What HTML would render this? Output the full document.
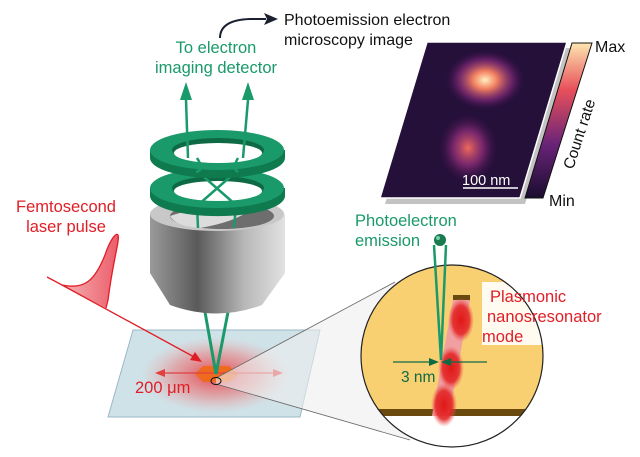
<!DOCTYPE html>
<html><head><meta charset="utf-8"><style>
html,body{margin:0;padding:0;background:#fff}
svg{display:block}
text{font-family:"Liberation Sans",sans-serif}
</style></head><body>
<svg width="640" height="457" viewBox="0 0 640 457" xmlns="http://www.w3.org/2000/svg">
<defs>
<radialGradient id="glow" cx="0.5" cy="0.5" r="0.5">
<stop offset="0" stop-color="#e8303a" stop-opacity="0.9"/>
<stop offset="0.6" stop-color="#ee6a6a" stop-opacity="0.45"/>
<stop offset="1" stop-color="#f4a0a0" stop-opacity="0"/>
</radialGradient>
<linearGradient id="obj" x1="0" x2="1">
<stop offset="0" stop-color="#9a9a9a"/><stop offset="0.35" stop-color="#5a5a5a"/><stop offset="0.7" stop-color="#b8b8b8"/><stop offset="1" stop-color="#e2e2e2"/>
</linearGradient>
<linearGradient id="cbar" x1="0" y1="1" x2="0" y2="0">
<stop offset="0" stop-color="#1a0c30"/><stop offset="0.35" stop-color="#6a2478"/><stop offset="0.7" stop-color="#e8505a"/><stop offset="1" stop-color="#fce6b0"/>
</linearGradient>
<radialGradient id="hot1" cx="0.5" cy="0.5" r="0.5">
<stop offset="0" stop-color="#fff0c0"/><stop offset="0.3" stop-color="#f28060"/><stop offset="0.7" stop-color="#8a2a80" stop-opacity="0.6"/><stop offset="1" stop-color="#3a1048" stop-opacity="0"/>
</radialGradient>
<radialGradient id="hot2" cx="0.5" cy="0.5" r="0.5">
<stop offset="0" stop-color="#ee6a5a"/><stop offset="0.5" stop-color="#9a3080" stop-opacity="0.7"/><stop offset="1" stop-color="#3a1048" stop-opacity="0"/>
</radialGradient>
<radialGradient id="blob" cx="0.5" cy="0.5" r="0.5">
<stop offset="0" stop-color="#e01818"/><stop offset="0.65" stop-color="#e42828" stop-opacity="0.9"/><stop offset="1" stop-color="#f06060" stop-opacity="0"/>
</radialGradient>
<linearGradient id="pulse" x1="0" x2="1"><stop offset="0" stop-color="#f8c0c0"/><stop offset="1" stop-color="#e84050"/></linearGradient>
<clipPath id="circ"><circle cx="452" cy="356" r="91"/></clipPath>
</defs>

<!-- substrate -->
<polygon points="133,330 320,330 300,417 108,417" fill="#cfe2e8" stroke="#9ab8c4"/>
<ellipse cx="216" cy="375" rx="75" ry="38" fill="url(#glow)"/>
<polygon points="203,366 229,366 238,374 229,382 203,382 195,374" fill="#f06a1e"/>
<line x1="160" y1="373" x2="280" y2="373" stroke="#e04040" stroke-width="1.2"/>
<polygon points="155,373 165,369 165,377" fill="#e04040"/>
<polygon points="283,373 273,369 273,377" fill="#e04040"/>
<text x="135" y="393" font-size="16.5" fill="#e01e26">200 μm</text>

<!-- magnifier cone -->
<polygon points="216,378 395,282 410,440 216,384" fill="#eeeeee" opacity="0.6"/>
<line x1="216" y1="378" x2="395" y2="282" stroke="#666" stroke-width="0.8"/>
<line x1="216" y1="384" x2="410" y2="440" stroke="#666" stroke-width="0.8"/>
<ellipse cx="216" cy="381" rx="5" ry="3.5" fill="none" stroke="#111" stroke-width="1"/>

<!-- laser pulse -->
<path d="M47,277 L62,285 C85,290 95,280 105,255 C110,240 116,232 118,235 C120,240 113,260 108,300 L106,308 Z" fill="url(#pulse)" opacity="0.85"/>
<path d="M47,277 L62,285 C85,290 95,280 105,255 C110,240 116,232 118,235 C120,240 113,260 108,300 L106,308" fill="none" stroke="#e01e26" stroke-width="1.3"/>
<line x1="62" y1="285" x2="196" y2="358" stroke="#e01e26" stroke-width="1.3"/>
<polygon points="202,362 190,360 195,352" fill="#e01e26"/>
<text x="66" y="212" font-size="16.5" fill="#e01e26" text-anchor="middle">Femtosecond</text>
<text x="66" y="232" font-size="16.5" fill="#e01e26" text-anchor="middle">laser pulse</text>

<!-- beams below objective -->
<path d="M205,312 L216,374 L228,312" fill="none" stroke="#1a9a6a" stroke-width="3"/>

<!-- objective -->
<path d="M150,214 L150,273 L170,305 Q217,322 262,305 L285,273 L285,214 Z" fill="url(#obj)"/>
<ellipse cx="217" cy="214" rx="67" ry="17" fill="#c8c8c8"/>
<ellipse cx="222" cy="216" rx="52" ry="13" fill="#6e6e6e"/>
<path d="M170,216 Q200,205 250,210 Q235,222 200,228 Q175,226 170,216Z" fill="#dcdcdc"/>
<line x1="197" y1="205" x2="198" y2="228" stroke="#1a9a6a" stroke-width="2.5"/>
<line x1="236" y1="205" x2="234" y2="228" stroke="#1a9a6a" stroke-width="2.5"/>

<!-- ring 2 -->
<path d="M150,188 L150,196 A67,20 0 0 0 285,196 L285,188" fill="#0f7a4e"/>
<ellipse cx="217" cy="188" rx="67" ry="20" fill="#1a9a6a"/>
<ellipse cx="218" cy="188" rx="46" ry="12" fill="#0e6a44"/>
<ellipse cx="218" cy="191" rx="44" ry="10" fill="#fff"/>
<path d="M196,170 L236,205 M238,170 L198,205" stroke="#1a9a6a" stroke-width="2.5"/>
<!-- ring 1 -->
<path d="M150,150 L150,158 A67,20 0 0 0 285,158 L285,150" fill="#0f7a4e"/>
<ellipse cx="217" cy="150" rx="67" ry="20" fill="#1a9a6a"/>
<ellipse cx="218" cy="150" rx="46" ry="12" fill="#0e6a44"/>
<ellipse cx="218" cy="153" rx="44" ry="10" fill="#fff"/>
<path d="M186,100 L188,158 M248,100 L243,158" stroke="#1a9a6a" stroke-width="2.5"/>
<polygon points="186,82 180,100 192,100" fill="#1a9a6a"/>
<polygon points="248,82 242,100 254,100" fill="#1a9a6a"/>
<path d="M197,158 Q205,170 196,172 M238,158 Q232,168 238,172" stroke="#1a9a6a" stroke-width="2.5" fill="none"/>

<text x="216" y="53" font-size="16.5" fill="#1a9a6a" text-anchor="middle">To electron</text>
<text x="216" y="73" font-size="16.5" fill="#1a9a6a" text-anchor="middle">imaging detector</text>

<!-- dark arrow -->
<path d="M220,38 Q220,20 250,19 L266,19" fill="none" stroke="#1a2030" stroke-width="2"/>
<polygon points="278,19 264,13 267,19 264,25" fill="#1a2030"/>
<text x="284" y="25" font-size="16" fill="#111">Photoemission electron</text>
<text x="284" y="45" font-size="16" fill="#111">microscopy image</text>

<!-- PEEM image -->
<polygon points="430,45 570,45 523,201 383,201" fill="#888" opacity="0.5" transform="translate(2,3)"/>
<polygon points="427,42 567,42 520,198 380,198" fill="#25103a" stroke="#fff" stroke-width="1.5"/>
<g>
<ellipse cx="485" cy="80" rx="40" ry="30" fill="url(#hot1)"/>
<ellipse cx="468" cy="148" rx="30" ry="35" fill="url(#hot2)"/>
</g>
<line x1="463" y1="188" x2="518" y2="188" stroke="#fff" stroke-width="1.5"/>
<text x="462" y="185" font-size="14.5" fill="#fff">100 nm</text>
<polygon points="572,43 592,43 543,198 525,198" fill="url(#cbar)" stroke="#111" stroke-width="1"/>
<text x="595" y="52" font-size="16" fill="#111">Max</text>
<text x="549" y="206" font-size="16" fill="#111">Min</text>
<text x="0" y="0" font-size="15.5" fill="#111" transform="translate(573,170) rotate(-72)">Count rate</text>

<!-- magnifier circle -->
<circle cx="452" cy="356" r="91" fill="#fff"/>
<g clip-path="url(#circ)">
<rect x="355" y="260" width="200" height="150" fill="#f8d072"/>
<rect x="355" y="409" width="200" height="7" fill="#6b4a10"/>
<rect x="482" y="282" width="70" height="63" fill="#fff" opacity="0.9"/>
<rect x="453" y="295" width="17" height="6" fill="#6b4a10"/>
<polygon points="453,300 470,300 449,416 432,416" fill="#f0a0a0"/>
<ellipse cx="461" cy="320" rx="13" ry="22" fill="url(#blob)"/>
<ellipse cx="451" cy="368" rx="13" ry="22" fill="url(#blob)"/>
<ellipse cx="444" cy="405" rx="13" ry="22" fill="url(#blob)"/>
</g>
<circle cx="452" cy="356" r="91" fill="none" stroke="#222" stroke-width="1.2"/>
<path d="M434,245 L441,360 L446,245" fill="none" stroke="#1a9a6a" stroke-width="2.5"/>
<circle cx="440" cy="240" r="6" fill="#1a7a50"/>
<circle cx="438" cy="238" r="2" fill="#7ad0a8"/>
<line x1="393" y1="362" x2="433" y2="362" stroke="#0e6a44" stroke-width="1.3"/>
<polygon points="439,362 429,358 429,366" fill="#0e6a44"/>
<line x1="447" y1="362" x2="487" y2="362" stroke="#0e6a44" stroke-width="1.3"/>
<polygon points="441,362 451,358 451,366" fill="#0e6a44"/>
<text x="401" y="382" font-size="15.5" fill="#0e6a44">3 nm</text>
<text x="490" y="302" font-size="16.5" fill="#e01e26">Plasmonic</text>
<text x="487" y="322" font-size="16.5" fill="#e01e26">nanosresonator</text>
<text x="482" y="342" font-size="16.5" fill="#e01e26">mode</text>
<text x="355" y="226" font-size="16.5" fill="#1a9a6a">Photoelectron</text>
<text x="355" y="246" font-size="16.5" fill="#1a9a6a">emission</text>
</svg>
</body></html>
